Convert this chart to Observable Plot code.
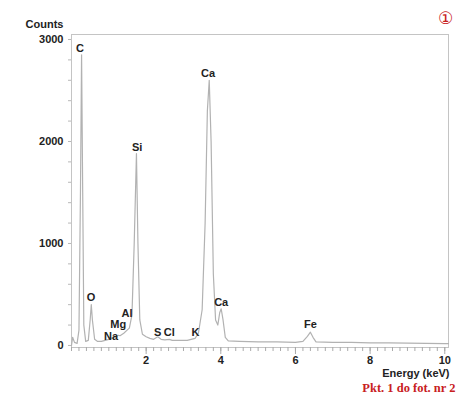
<!DOCTYPE html>
<html>
<head>
<meta charset="utf-8">
<script src="https://cdn.jsdelivr.net/npm/d3@7"></script>
<script src="https://cdn.jsdelivr.net/npm/@observablehq/plot@0.6"></script>
<style>
  html, body { margin: 0; padding: 0; background: #fff; }
  #chart { width: 456px; height: 399px; }
</style>
</head>
<body>
<div id="chart"></div>
<script>
// EDS spectrum
const energy = [0.00, 0.03, 0.08, 0.15, 0.20, 0.24, 0.27, 0.30, 0.33, 0.38,
  0.45, 0.50, 0.53, 0.56, 0.62, 0.70, 0.80, 0.90, 1.00, 1.04,
  1.10, 1.20, 1.25, 1.30, 1.40, 1.49, 1.55, 1.62, 1.68, 1.74,
  1.78, 1.83, 1.90, 2.00, 2.10, 2.20, 2.31, 2.40, 2.50, 2.62,
  2.70, 2.90, 3.10, 3.31, 3.40, 3.50, 3.58, 3.64, 3.69, 3.74,
  3.80, 3.86, 3.92, 3.97, 4.01, 4.06, 4.12, 4.20, 4.50, 5.00,
  5.50, 6.00, 6.20, 6.32, 6.40, 6.47, 6.55, 7.00, 7.50, 8.00,
  8.50, 9.00, 9.50, 10.00, 10.10];
const counts = [0, 80, 30, 20, 150, 1500, 2850, 1500, 200, 40,
  50, 250, 400, 250, 60, 40, 40, 50, 60, 75,
  70, 85, 100, 95, 120, 150, 170, 300, 1000, 1880,
  1000, 250, 110, 85, 70, 60, 85, 60, 55, 60,
  50, 50, 50, 70, 120, 350, 1200, 2300, 2600, 2000,
  700, 250, 200, 320, 360, 250, 80, 45, 40, 35,
  35, 30, 40, 90, 130, 80, 35, 30, 30, 25,
  25, 22, 20, 18, 18];

// element labels
const elements    = ["C", "O", "Na", "Mg", "Al", "Si", "S", "Cl", "K", "Ca", "Ca", "Fe"];
const labelEnergy = [0.23, 0.52, 1.06, 1.25, 1.49, 1.76, 2.31, 2.62, 3.32, 3.66, 4.01, 6.40];
const labelCounts = [2912, 471, 90, 205, 318, 1941, 127, 127, 127, 2667, 422, 206];

// ticks
const yMajorTicks = [0, 1000, 2000, 3000];
const yMinorTicks = d3.range(0, 3001, 200);
const xMajorTicks = [2, 4, 6, 8, 10];
const xMinorTicks = d3.range(0, 51).map(i => i / 5);

const spectrum = energy.map((e, i) => ({energy: e, counts: counts[i]}));
const labels = elements.map((el, i) => ({el, energy: labelEnergy[i], counts: labelCounts[i]}));

const bold = {fontWeight: "bold", fill: "#222"};

const chart = Plot.plot({
  width: 456,
  height: 399,
  marginLeft: 71,
  marginRight: 8,
  marginTop: 34,
  marginBottom: 52,
  x: {domain: [0, 10.1], label: null},
  y: {domain: [-20, 3049], label: null},
  style: {fontFamily: "'Liberation Sans', Arial, sans-serif", fontSize: "11px", background: "#fff", color: "#222"},
  marks: [
    Plot.frame({stroke: "#c4c4c4", strokeWidth: 1}),
    Plot.axisY({ticks: yMinorTicks, tickSize: 3, text: null, stroke: "#b8b8b8", label: null}),
    Plot.axisY({ticks: yMajorTicks, tickSize: 0, tickPadding: 8, tickFormat: d => String(d), label: null, ...bold}),
    Plot.axisX({ticks: xMinorTicks, tickSize: 4, text: null, stroke: "#aaa", label: null}),
    Plot.axisX({ticks: xMajorTicks, tickSize: 7, tickPadding: 2, tickFormat: d => String(d), stroke: "#aaa", label: null, ...bold}),
    Plot.line(spectrum, {x: "energy", y: "counts", stroke: "#b2b2b2", strokeWidth: 1.2}),
    Plot.text(labels, {x: "energy", y: "counts", text: "el", ...bold}),
    Plot.text(["Counts"], {frameAnchor: "top-left", textAnchor: "end", dx: -8, dy: -14, text: d => d, ...bold}),
    Plot.text(["Energy (keV)"], {frameAnchor: "bottom-right", textAnchor: "end", dx: 1, dy: 29.5, text: d => d, ...bold}),
    Plot.text(["Pkt. 1 do fot. nr 2"], {frameAnchor: "bottom-right", textAnchor: "end", dx: 7, dy: 44.5, text: d => d,
      fontFamily: "'Liberation Serif', 'Times New Roman', serif", fontSize: 12.5, fontWeight: "bold", fill: "#c8201e"}),
    Plot.text(["①"], {frameAnchor: "top-right", textAnchor: "middle", dx: -3, dy: -22.5, text: d => d,
      fontFamily: "'DejaVu Sans', 'Noto Sans CJK JP', sans-serif", fontSize: 17, fill: "#c8201e"})
  ]
});
document.getElementById("chart").appendChild(chart);
</script>
</body>
</html>
